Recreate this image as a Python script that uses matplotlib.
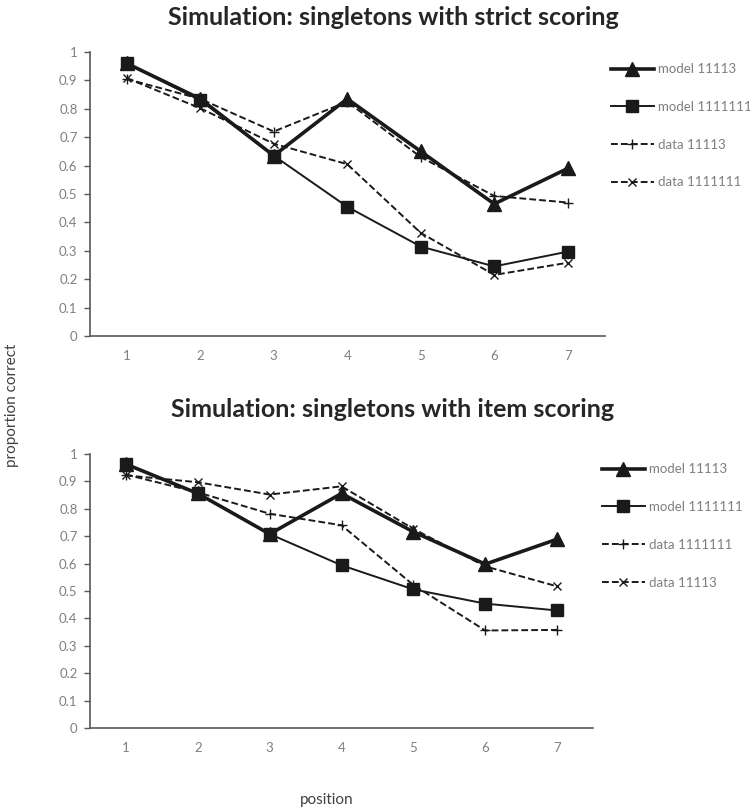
import matplotlib
matplotlib.use("Agg")
import matplotlib.pyplot as plt
from matplotlib.ticker import FixedLocator, FuncFormatter

plt.rcParams['font.family'] = ['Lato', 'DejaVu Sans']

positions = [1, 2, 3, 4, 5, 6, 7]
y_ticks = [0, 0.1, 0.2, 0.3, 0.4, 0.5, 0.6, 0.7, 0.8, 0.9, 1.0]

# Top panel: strict scoring
strict_model_11113 = [0.96, 0.835, 0.635, 0.835, 0.65, 0.465, 0.59]
strict_model_1111111 = [0.96, 0.83, 0.635, 0.455, 0.315, 0.245, 0.297]
strict_data_11113 = [0.905, 0.835, 0.72, 0.825, 0.63, 0.493, 0.47]
strict_data_1111111 = [0.908, 0.802, 0.677, 0.605, 0.363, 0.215, 0.258]
strict_labels = ["model 11113", "model 1111111", "data 11113", "data 1111111"]

# Bottom panel: item scoring
item_model_11113 = [0.963, 0.856, 0.708, 0.856, 0.716, 0.598, 0.689]
item_model_1111111 = [0.963, 0.856, 0.708, 0.594, 0.506, 0.454, 0.429]
item_data_1111111 = [0.925, 0.86, 0.782, 0.74, 0.522, 0.356, 0.358]
item_data_11113 = [0.922, 0.897, 0.852, 0.882, 0.727, 0.59, 0.517]
item_labels = ["model 11113", "model 1111111", "data 1111111", "data 11113"]

title_top = "Simulation: singletons with strict scoring"
title_bottom = "Simulation: singletons with item scoring"

LINE = "#1a1a1a"
GREY = "#808080"

styles = [
    dict(color=LINE, lw=2.6, marker='^', markersize=9.5, linestyle='-'),
    dict(color=LINE, lw=1.4, marker='s', markersize=8.5, linestyle='-'),
    dict(color=LINE, lw=1.4, marker='+', markersize=7, markeredgewidth=1.0, linestyle=(0, (3.5, 1.6))),
    dict(color=LINE, lw=1.4, marker='x', markersize=5.5, markeredgewidth=1.0, linestyle=(0, (3.5, 1.6))),
]

fig = plt.figure(figsize=(7.5, 8.1), dpi=100)

def fmt(v, pos):
    if abs(v) < 1e-9:
        return "0"
    if abs(v - 1) < 1e-9:
        return "1"
    return ("%.1f" % v)

def setup(ax, xmax):
    ax.set_xlim(0.5, xmax)
    ax.set_ylim(0, 1)
    ax.spines['top'].set_visible(False)
    ax.spines['right'].set_visible(False)
    for s in ['left', 'bottom']:
        ax.spines[s].set_color('#595959')
        ax.spines[s].set_linewidth(1.2)
    ax.yaxis.set_major_locator(FixedLocator(y_ticks))
    ax.yaxis.set_major_formatter(FuncFormatter(fmt))
    ax.set_xticks(positions)
    ax.set_xticklabels([str(p) for p in positions])
    ax.tick_params(axis='y', direction='out', length=4, width=1, color='#595959',
                   labelsize=9.5, labelcolor=GREY, pad=5)
    ax.tick_params(axis='x', length=0, labelsize=9.5, labelcolor=GREY, pad=10)

def legend(ax, handles, labels, x, y):
    ax.legend(handles, labels, loc='upper left', bbox_to_anchor=(x, y),
              bbox_transform=fig.transFigure, frameon=False, fontsize=9.5,
              labelcolor='#7f7f7f', handlelength=3.3, handletextpad=0.3,
              labelspacing=1.95, borderpad=0, borderaxespad=0)

# Top axes
ax1 = fig.add_axes([0.12, 0.5852, 0.686, 0.3506])
series_top = [strict_model_11113, strict_model_1111111, strict_data_11113, strict_data_1111111]
h1 = []
for vals, st in zip(series_top, styles):
    ln, = ax1.plot(positions, vals, **st)
    h1.append(ln)
setup(ax1, 7.5)
legend(ax1, h1, strict_labels, 0.814, 0.922)

# Bottom axes
ax2 = fig.add_axes([0.12, 0.1012, 0.6707, 0.3383])
series_bottom = [item_model_11113, item_model_1111111, item_data_1111111, item_data_11113]
h2 = []
for vals, st in zip(series_bottom, styles):
    ln, = ax2.plot(positions, vals, **st)
    h2.append(ln)
setup(ax2, 7.5)
legend(ax2, h2, item_labels, 0.802, 0.428)

fig.text(0.524, 0.978, title_top, ha='center', va='center', fontsize=18,
         fontweight='bold', color='#262626')
fig.text(0.524, 0.494, title_bottom, ha='center', va='center', fontsize=18,
         fontweight='bold', color='#262626')

fig.text(0.016, 0.5, "proportion correct", rotation=90, ha='center', va='center',
         fontsize=11, color='#404040')
fig.text(0.435, 0.012, "position", ha='center', va='center',
         fontsize=11, color='#404040')

fig.savefig("out.png", dpi=100)
